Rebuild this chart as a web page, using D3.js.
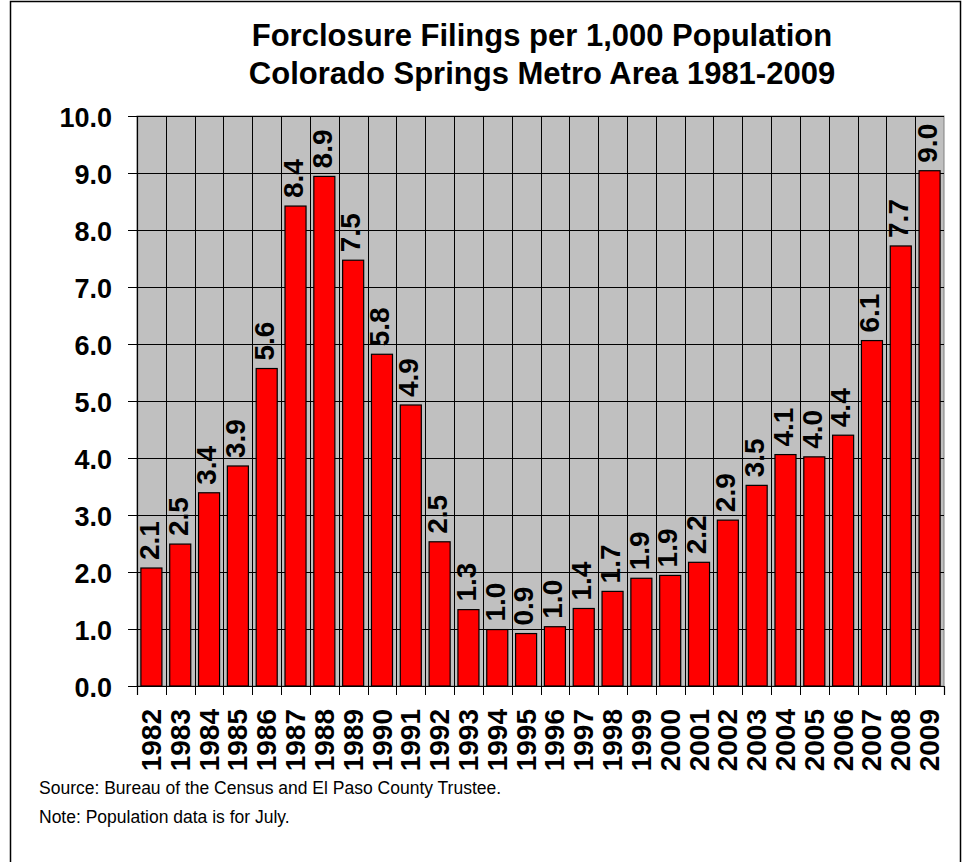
<!DOCTYPE html>
<html>
<head>
<meta charset="utf-8">
<script src="https://cdn.jsdelivr.net/npm/d3@7"></script>
<style>
  html, body { margin: 0; padding: 0; background: #fff; }
  svg { display: block; }
  text { font-family: "Liberation Sans", Arial, sans-serif; }
</style>
</head>
<body>
<svg id="chart" width="963" height="862"></svg>
<script>
const titleLines = ["Forclosure Filings per 1,000 Population", "Colorado Springs Metro Area 1981-2009"];
const years = ["1982","1983","1984","1985","1986","1987","1988","1989","1990","1991","1992","1993","1994","1995","1996","1997","1998","1999","2000","2001","2002","2003","2004","2005","2006","2007","2008","2009"];
const values = [2.07,2.49,3.39,3.86,5.57,8.42,8.94,7.47,5.82,4.93,2.53,1.34,0.99,0.92,1.04,1.36,1.66,1.89,1.94,2.17,2.91,3.52,4.06,4.02,4.40,6.06,7.72,9.04];
const yTicks = [0,1,2,3,4,5,6,7,8,9,10];
const notes = ["Source: Bureau of the Census and El Paso County Trustee.", "Note: Population data is for July."];

const svg = d3.select("#chart");
const L = 137, R = 944, T = 116, B = 686;
const fmt = d3.format(".1f");

// outer border
svg.append("rect").attr("x", 10.5).attr("y", 1.5).attr("width", 950).attr("height", 900)
  .attr("fill", "#fff").attr("stroke", "#000").attr("stroke-width", 1.5);

const y = d3.scaleLinear().domain([0, 10]).range([B, T]);
const x = d3.scaleBand().domain(years).range([L, R]).paddingInner(0.27).paddingOuter(0.135);
const xb = d3.scaleLinear().domain([0, years.length]).range([L, R]);

// plot background
svg.append("rect").attr("x", L).attr("y", T).attr("width", R - L).attr("height", B - T)
  .attr("fill", "#C0C0C0").attr("stroke", "#808080").attr("stroke-width", 1);

// horizontal gridlines
svg.append("g").attr("transform", `translate(${L},0)`)
  .call(d3.axisLeft(y).tickValues(yTicks).tickSize(-(R - L)).tickFormat(""))
  .call(g => g.select(".domain").remove())
  .call(g => g.selectAll("line").attr("stroke", "#000").attr("shape-rendering", "crispEdges"));

// vertical gridlines
svg.append("g").attr("transform", `translate(0,${B})`)
  .call(d3.axisBottom(xb).tickValues(d3.range(1, years.length)).tickSize(-(B - T)).tickFormat(""))
  .call(g => g.select(".domain").remove())
  .call(g => g.selectAll("line").attr("stroke", "#000").attr("stroke-width", 1).attr("shape-rendering", "crispEdges"));

// bars
svg.append("g").selectAll("rect").data(values).join("rect")
  .attr("x", (d, i) => x(years[i]))
  .attr("y", d => y(d))
  .attr("width", x.bandwidth())
  .attr("height", d => y(0) - y(d))
  .attr("fill", "#FF0000").attr("stroke", "#000").attr("stroke-width", 1.2);

// value labels
svg.append("g").selectAll("text").data(values).join("text")
  .attr("transform", (d, i) => `translate(${x(years[i]) + x.bandwidth() / 2},${y(d) - 8}) rotate(-90)`)
  .attr("dy", "0.26em")
  .attr("text-anchor", "start")
  .attr("font-size", 28).attr("font-weight", "bold")
  .attr("fill", "#000")
  .text(d => fmt(d));

// y axis
const yAxis = svg.append("g").attr("transform", `translate(${L},0)`)
  .call(d3.axisLeft(y).tickValues(yTicks).tickFormat(fmt).tickSize(9).tickPadding(16));
yAxis.select(".domain").attr("stroke", "#000").attr("stroke-width", 1.2);
yAxis.selectAll("line").attr("stroke", "#000").attr("shape-rendering", "crispEdges");
yAxis.selectAll("text").attr("font-size", 27).attr("font-weight", "bold").attr("fill", "#000")
  .attr("font-family", "'Liberation Sans', Arial, sans-serif").attr("dy", "0.4em");

// x axis: boundary ticks
const xAxis = svg.append("g").attr("transform", `translate(0,${B})`)
  .call(d3.axisBottom(xb).tickValues(d3.range(0, years.length + 1)).tickSize(9).tickFormat(""));
xAxis.select(".domain").attr("stroke", "#000").attr("stroke-width", 1.2);
xAxis.selectAll("line").attr("stroke", "#000").attr("shape-rendering", "crispEdges");

// x axis: year labels
const xLab = svg.append("g").attr("transform", `translate(0,${B})`)
  .call(d3.axisBottom(x).tickSize(0).tickPadding(0));
xLab.select(".domain").remove();
xLab.selectAll(".tick text")
  .attr("transform", "translate(0,23) rotate(-90)")
  .attr("x", 0).attr("y", 0).attr("dy", "0.34em")
  .attr("text-anchor", "end")
  .attr("font-size", 28).attr("font-weight", "bold").attr("fill", "#000")
  .attr("font-family", "'Liberation Sans', Arial, sans-serif");

// title
svg.append("g").selectAll("text").data(titleLines).join("text")
  .attr("x", 542).attr("y", (d, i) => 46 + i * 37.6)
  .attr("text-anchor", "middle")
  .attr("font-size", 31).attr("font-weight", "bold").attr("fill", "#000")
  .text(d => d);

// notes
svg.append("g").selectAll("text").data(notes).join("text")
  .attr("x", 39).attr("y", (d, i) => 794 + i * 29)
  .attr("font-size", 17.5).attr("fill", "#000")
  .text(d => d);
</script>
</body>
</html>
